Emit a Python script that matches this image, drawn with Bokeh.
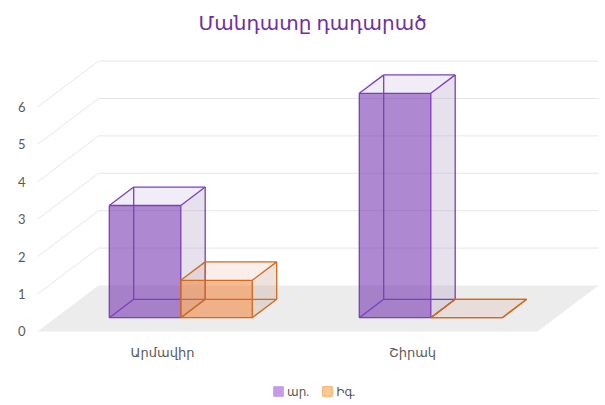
from bokeh.plotting import figure
from bokeh.models import Range1d, FixedTicker, Legend, LegendItem, ColumnDataSource
from bokeh.core.properties import value
from bokeh.embed import file_html
from bokeh.resources import INLINE

# ---------------- data ----------------
title_text = "Մանդատը դադարած"
categories = ["Արմավիր", "Շիրակ"]
series_names = ["ար.", "Իգ."]
values_ar = [3, 6]
values_ig = [1, 0]
y_ticks = [0, 1, 2, 3, 4, 5, 6]

# ---------------- geometry / style ----------------
DX = 0.244      # depth shift in x units (full floor depth)
DY = 1.23       # depth shift in value units (full floor depth)
BW = 0.286      # bar width in category units
D0, D1 = 0.3, 0.7   # bar depth span (fraction of floor depth)
Y_MIN, Y_MAX = -1.845, 7.807
CAT_LABEL_Y = -0.56
FONT = "Lato, 'DejaVu Sans', sans-serif"
TXT = "#595959"

styles = [
    dict(edge="#7b3fb9", front=("#7433b0", 0.58), right=("#b8a8cc", 0.35),
         top=("#c8b8dc", 0.25), lfill="#c59be9", lline="#c59be9"),
    dict(edge="#cf6a1f", front=("#f28234", 0.55), right=("#c8a090", 0.3),
         top=("#d89070", 0.15), lfill="#ffc891", lline="#f5b06a"),
]

n_cat = len(categories)
p = figure(width=600, height=400,
           x_range=Range1d(0, n_cat + DX), y_range=Range1d(Y_MIN, Y_MAX),
           output_backend="svg", toolbar_location=None,
           min_border_left=37, min_border_right=2, min_border_top=39,
           min_border_bottom=0, outline_line_color=None)
p.xgrid.visible = False
p.ygrid.visible = False
p.xaxis.visible = False

p.title.text = title_text
p.title.align = "left"
p.title.offset = 161
p.title.text_font = FONT
p.title.text_font_size = "20px"
p.title.text_font_style = "normal"
p.title.text_color = "#7030a0"
p.title.standoff = 11

# value axis
p.yaxis.ticker = FixedTicker(ticks=y_ticks)
ax = p.yaxis[0]
ax.axis_line_color = None
ax.major_tick_line_color = None
ax.minor_tick_line_color = None
ax.major_tick_out = 0
ax.major_tick_in = 0
ax.major_label_text_font = FONT
ax.major_label_text_font_size = "13px"
ax.major_label_text_color = TXT
ax.major_label_standoff = 12


def proj(x, v, d):
    return x + d * DX, v + d * DY


# floor
fl = [proj(0, 0, 0), proj(n_cat, 0, 0), proj(n_cat, 0, 1), proj(0, 0, 1)]
p.patch([q[0] for q in fl], [q[1] for q in fl], fill_color="#ececec", line_color=None)

# back wall gridlines and side wall diagonals
gx, gy = [], []
for t in y_ticks[1:]:
    a, b = proj(0, t, 1), proj(n_cat, t, 1)
    gx.append([a[0], b[0]]); gy.append([a[1], b[1]])
    c, d = proj(0, t, 0), proj(0, t, 1)
    gx.append([c[0], d[0]]); gy.append([c[1], d[1]])
p.multi_line(gx, gy, line_color="#e6e6e6", line_width=1)


def box(x0, x1, v):
    P = proj
    fbl, fbr, ftl, ftr = P(x0, 0, D0), P(x1, 0, D0), P(x0, v, D0), P(x1, v, D0)
    bbl, bbr, btl, btr = P(x0, 0, D1), P(x1, 0, D1), P(x0, v, D1), P(x1, v, D1)
    faces = [("right", [fbr, bbr, btr, ftr]), ("top", [ftl, ftr, btr, btl]),
             ("front", [fbl, fbr, ftr, ftl])]
    edges = [(fbl, fbr), (fbr, ftr), (ftr, ftl), (ftl, fbl),
             (bbl, bbr), (bbr, btr), (btr, btl), (btl, bbl),
             (fbl, bbl), (fbr, bbr), (ftr, btr), (ftl, btl)]
    return faces, edges


legend_items = []
for s, (name, vals) in enumerate(zip(series_names, [values_ar, values_ig])):
    st = styles[s]
    fx, fy, fc, fa = [], [], [], []
    ex, ey = [], []
    for i, v in enumerate(vals):
        x0 = i + 0.5 - BW + s * BW
        x1 = x0 + BW
        faces, edges = box(x0, x1, v)
        for kind, pts in faces:
            fx.append([q[0] for q in pts]); fy.append([q[1] for q in pts])
            fc.append(st[kind][0]); fa.append(st[kind][1])
        for a, b in edges:
            ex.append([a[0], b[0]]); ey.append([a[1], b[1]])
    src = ColumnDataSource(dict(xs=fx, ys=fy, c=fc, a=fa))
    p.patches("xs", "ys", source=src, fill_color="c", fill_alpha="a", line_color=None)
    p.multi_line(ex, ey, line_color=st["edge"], line_width=1.3)
    dummy = p.quad(left=[float("nan")], right=[float("nan")], top=[float("nan")],
                   bottom=[float("nan")], fill_color=st["lfill"], line_color=st["lline"])
    legend_items.append(LegendItem(label=name, renderers=[dummy]))

# category labels
p.text(x=[i + 0.5 for i in range(n_cat)], y=[CAT_LABEL_Y] * n_cat, text=categories,
       text_align="center", text_baseline="middle", text_font=value(FONT),
       text_font_size="13px", text_color=TXT)

legend = Legend(items=legend_items, orientation="horizontal", location=(235, 1),
                glyph_width=12, glyph_height=12, label_height=16, label_standoff=3,
                spacing=12, padding=2, margin=0, border_line_color=None,
                background_fill_alpha=0, label_text_font=FONT,
                label_text_font_size="12px", label_text_color=TXT)
p.add_layout(legend)

open("out.html", "w").write(file_html(p, INLINE))
